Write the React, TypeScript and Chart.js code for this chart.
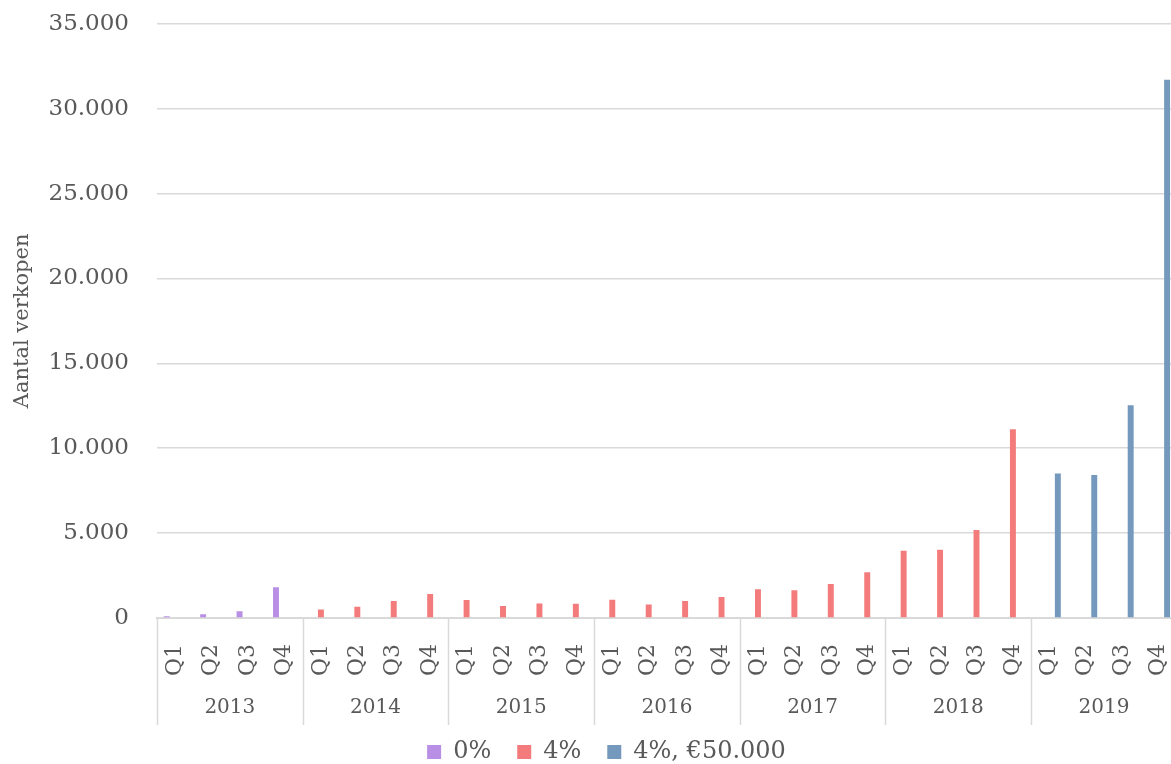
import React, { useEffect, useRef } from 'react';
import { Chart, registerables } from 'chart.js';

Chart.register(...registerables);

const years = ['2013', '2014', '2015', '2016', '2017', '2018', '2019'];
const quarters = ['Q1', 'Q2', 'Q3', 'Q4'];
const categories = years.flatMap(() => quarters);

const seriesNames = ['0%', '4%', '4%, €50.000'];
const values0 = [100, 220, 400, 1810, null, null, null, null, null, null, null, null, null, null, null, null, null, null, null, null, null, null, null, null, null, null, null, null];
const values4 = [null, null, null, null, 500, 670, 1000, 1410, 1060, 700, 850, 840, 1080, 790, 1000, 1230, 1690, 1630, 2000, 2700, 3960, 4020, 5180, 11120, null, null, null, null];
const values50 = [null, null, null, null, null, null, null, null, null, null, null, null, null, null, null, null, null, null, null, null, null, null, null, null, 8510, 8430, 12530, 31700];

const yMax = 35000;
const yStep = 5000;
const yTitle = 'Aantal verkopen';

const colors = ['#B88FE4', '#F47B7B', '#7499BC'];
const textColor = '#595959';
const gridColor = '#D9D9D9';
const fontFamily = "'DejaVu Serif', serif";

const fmt = (v: number) => String(v).replace(/\B(?=(\d{3})+(?!\d))/g, '.');

const separatorPlugin = {
  id: 'yearSeparators',
  afterDraw(chart: any) {
    const { ctx, chartArea } = chart;
    const n = years.length;
    const w = (chartArea.right - chartArea.left) / n;
    ctx.save();
    ctx.strokeStyle = gridColor;
    ctx.lineWidth = 1.5;
    for (let i = 0; i <= n; i++) {
      const x = Math.round(chartArea.left + i * w) + 0.5;
      ctx.beginPath();
      ctx.moveTo(x, chartArea.bottom);
      ctx.lineTo(x, chartArea.bottom + 107);
      ctx.stroke();
    }
    ctx.restore();
  },
};

export default function App() {
  const ref = useRef<HTMLCanvasElement | null>(null);
  useEffect(() => {
    if (!ref.current) return;
    const series = [values0, values4, values50];
    const chart = new Chart(ref.current, {
      type: 'bar',
      data: {
        labels: categories,
        datasets: series.map((d, i) => ({
          label: seriesNames[i],
          data: d,
          backgroundColor: colors[i],
          borderWidth: 0,
          categoryPercentage: 0.7,
          barPercentage: 0.7,
        })),
      },
      options: {
        animation: false,
        responsive: true,
        maintainAspectRatio: false,
        layout: { padding: { top: 4, right: 0, left: 10, bottom: 0 } },
        plugins: {
          legend: {
            position: 'bottom',
            labels: {
              boxWidth: 14,
              boxHeight: 14,
              padding: 26,
              color: textColor,
              font: { family: fontFamily, size: 24 },
            },
          },
          tooltip: { enabled: false },
        },
        scales: {
          x: {
            grid: { display: false },
            border: { display: true, color: gridColor, width: 2 },
            ticks: {
              autoSkip: false,
              minRotation: 90,
              maxRotation: 90,
              color: textColor,
              padding: 18,
              font: { family: fontFamily, size: 22 },
            },
            afterFit: (s: any) => { s.height = 70; },
          },
          x2: {
            type: 'category',
            labels: years,
            position: 'bottom',
            offset: true,
            grid: { display: false },
            border: { display: false },
            ticks: { color: textColor, padding: 0, font: { family: fontFamily, size: 20 } },
            afterFit: (s: any) => { s.height = 26; },
          },
          y: {
            min: 0,
            max: yMax,
            ticks: {
              stepSize: yStep,
              color: textColor,
              padding: 28,
              font: { family: fontFamily, size: 23 },
              callback: (v: any) => fmt(Number(v)),
            },
            grid: { color: gridColor, drawTicks: false, lineWidth: 1.5 },
            border: { display: false },
            title: {
              display: true,
              text: yTitle,
              color: textColor,
              padding: { top: 0, bottom: 0 },
              font: { family: fontFamily, size: 21 },
            },
            afterFit: (s: any) => { s.width = 147; },
          },
        },
      },
      plugins: [separatorPlugin],
    } as any);
    return () => chart.destroy();
  }, []);
  return (
    <div style={{ position: 'fixed', left: 0, top: 0, width: 1171, height: 764, overflow: 'hidden', background: '#fff' }}>
      <div style={{ position: 'relative', top: -18, left: 0, width: 1203, height: 792 }}>
        <canvas ref={ref} />
      </div>
    </div>
  );
}
